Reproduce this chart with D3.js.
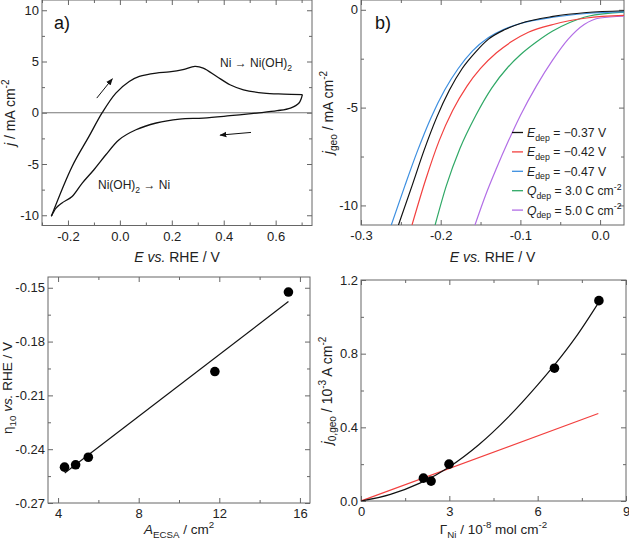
<!DOCTYPE html>
<html>
<head>
<meta charset="utf-8">
<script src="https://cdn.jsdelivr.net/npm/d3@7"></script>
<style>
  body { margin: 0; background: #fff; }
  svg { display: block; font-family: "Liberation Sans", Arial, sans-serif; }
</style>
</head>
<body>
<div id="chart"></div>
<script>
// ---- data ----
// a) cyclic voltammogram, anodic (upper) and cathodic (lower) sweeps
const cvFwdE = [-0.264, -0.184, -0.119, -0.0675, -0.0155, 0.036, 0.075, 0.14, 0.19, 0.243, 0.289, 0.321, 0.373, 0.424, 0.476, 0.554, 0.631, 0.703];
const cvFwdJ = [-10.1, -5.24, -2.31, 0.03, 1.92, 3.05, 3.54, 3.87, 3.98, 4.2, 4.52, 4.36, 3.54, 2.73, 2.24, 1.92, 1.82, 1.76];
const cvRevE = [0.703, 0.69, 0.657, 0.606, 0.528, 0.424, 0.321, 0.23, 0.14, 0.062, -0.003, -0.054, -0.1, -0.145, -0.184, -0.223, -0.246, -0.264];
const cvRevJ = [1.76, 0.95, 0.46, 0.2, -0.03, -0.29, -0.52, -0.62, -1.0, -1.66, -2.63, -4.1, -5.56, -6.86, -8.17, -8.8, -9.3, -10.1];

// b) polarisation curves
const lsvLabels = ["−0.37 V", "−0.42 V", "−0.47 V", "3.0 C cm", "5.0 C cm"];
const lsvSymbols = ["E", "E", "E", "Q", "Q"];
const lsvColors = ["#111111", "#f2403f", "#3d8fe0", "#2fa866", "#b26ee6"];
const lsvE = [
  [-0.253, -0.236, -0.221, -0.205, -0.189, -0.173, -0.156, -0.14, -0.12, -0.10, -0.059, -0.017, 0.03],
  [-0.236, -0.219, -0.202, -0.185, -0.167, -0.15, -0.13, -0.11, -0.09, -0.059, -0.017, 0.03],
  [-0.262, -0.245, -0.229, -0.212, -0.195, -0.178, -0.16, -0.14, -0.12, -0.10, -0.059, -0.017, 0.03],
  [-0.207, -0.193, -0.176, -0.156, -0.136, -0.116, -0.1, -0.08, -0.06, -0.038, -0.015, 0.03],
  [-0.157, -0.143, -0.13, -0.115, -0.1, -0.08, -0.06, -0.04, -0.02, 0.0, 0.03]
];
const lsvJ = [
  [-11, -9.0, -7.2, -5.5, -4.1, -3.0, -2.15, -1.5, -1.02, -0.7, -0.34, -0.14, -0.05],
  [-11, -8.7, -6.7, -5.15, -3.9, -3.0, -2.2, -1.6, -1.15, -0.75, -0.42, -0.29],
  [-11, -9.0, -7.2, -5.5, -4.1, -3.0, -2.1, -1.42, -0.98, -0.7, -0.38, -0.19, -0.11],
  [-11, -9.0, -7.1, -5.4, -4.0, -2.95, -2.3, -1.65, -1.1, -0.65, -0.33, -0.12],
  [-11, -9.4, -8.1, -6.7, -5.4, -3.9, -2.6, -1.5, -0.75, -0.42, -0.33]
];

// c) overpotential vs ECSA
const ecsa = [4.32, 4.87, 5.5, 11.78, 15.43];
const eta10 = [-0.25, -0.2487, -0.2445, -0.1967, -0.1524];
const etaFitX = [4.33, 15.43];
const etaFitY = [-0.2533, -0.1577];

// d) exchange current density vs Ni loading
const gammaNi = [2.12, 2.38, 2.99, 6.57, 8.08];
const j0 = [0.124, 0.108, 0.2, 0.721, 1.088];
const j0CurveX = [0, 1, 2, 3, 4, 5, 6, 6.6, 7.3, 8.08];
const j0CurveY = [0, 0.036, 0.097, 0.185, 0.305, 0.455, 0.63, 0.744, 0.891, 1.08];
const j0LineX = [0, 8.06];
const j0LineY = [0, 0.475];

// tick values
const aTicksX = [-0.2, 0, 0.2, 0.4, 0.6], aMinorX = [-0.3, -0.1, 0.1, 0.3, 0.5, 0.7];
const aTicksY = [-10, -5, 0, 5, 10], aMinorY = [-7.5, -2.5, 2.5, 7.5];
const bTicksX = [-0.3, -0.2, -0.1, 0.0], bMinorX = [-0.25, -0.15, -0.05];
const bTicksY = [-10, -5, 0], bMinorY = [-7.5, -2.5];
const cTicksX = [4, 8, 12, 16], cMinorX = [6, 10, 14];
const cTicksY = [-0.27, -0.24, -0.21, -0.18, -0.15], cMinorY = [-0.255, -0.225, -0.195, -0.165];
const dTicksX = [0, 3, 6, 9], dMinorX = [1.5, 4.5, 7.5];
const dTicksY = [0, 0.4, 0.8, 1.2], dMinorY = [0.2, 0.6, 1.0];

// ---- drawing ----
const svg = d3.select("#chart").append("svg")
    .attr("width", 629)
    .attr("height", 541);

const defs = svg.append("defs");
defs.append("marker")
    .attr("id", "arrowHead")
    .attr("viewBox", "0 0 10 10")
    .attr("refX", 9).attr("refY", 5)
    .attr("markerWidth", 7).attr("markerHeight", 7)
    .attr("markerUnits", "userSpaceOnUse")
    .attr("orient", "auto")
    .append("path")
    .attr("d", "M0,1 L10,5 L0,9 z")
    .attr("fill", "#111");

// tick labels in the figure use a plain hyphen
const hy = f => v => f(v).replace("−", "-");

// rich text helper: segments like {t, i, sub, sup}
function richText(sel, segs, size) {
    let cur = 0;
    segs.forEach(s => {
        let ts = sel.append("tspan").text(s.t);
        let target = s.sub ? size * 0.3 : (s.sup ? -size * 0.42 : 0);
        if (target !== cur) ts.attr("dy", target - cur);
        cur = target;
        if (s.i) ts.attr("font-style", "italic");
        if (s.sub || s.sup) ts.attr("font-size", size * 0.72);
    });
    return sel;
}

function panel(box, xDom, yDom, ticks, fmtX, fmtY) {
    let x = d3.scaleLinear().domain(xDom).range([box.l, box.r]);
    let y = d3.scaleLinear().domain(yDom).range([box.b, box.t]);
    let g = svg.append("g");

    defs.append("clipPath").attr("id", "clip" + box.id)
        .append("rect")
        .attr("x", box.l).attr("y", box.t)
        .attr("width", box.r - box.l).attr("height", box.b - box.t);

    let addAxis = (axis, tr, vals, size, fmt, pad) => {
        let a = g.append("g").attr("transform", tr)
            .call(axis.tickValues(vals).tickSize(-size).tickPadding(pad || 3).tickFormat(fmt || ""));
        a.select(".domain").remove();
        a.selectAll("line").attr("stroke", "#666");
        a.selectAll("text").attr("fill", "#222").attr("font-size", 13)
            .attr("font-family", "'Liberation Sans', Arial, sans-serif");
        if (!fmt) a.selectAll("text").remove();
        return a;
    };
    addAxis(d3.axisBottom(x), `translate(0,${box.b})`, ticks.x, 5, hy(fmtX), 6);
    addAxis(d3.axisBottom(x), `translate(0,${box.b})`, ticks.mx, 3);
    addAxis(d3.axisTop(x), `translate(0,${box.t})`, ticks.x, 5);
    addAxis(d3.axisTop(x), `translate(0,${box.t})`, ticks.mx, 3);
    addAxis(d3.axisLeft(y), `translate(${box.l},0)`, ticks.y, 5, hy(fmtY), 3);
    addAxis(d3.axisLeft(y), `translate(${box.l},0)`, ticks.my, 3);
    addAxis(d3.axisRight(y), `translate(${box.r},0)`, ticks.y, 5);
    addAxis(d3.axisRight(y), `translate(${box.r},0)`, ticks.my, 3);

    g.append("rect")
        .attr("x", box.l).attr("y", box.t)
        .attr("width", box.r - box.l).attr("height", box.b - box.t)
        .attr("fill", "none")
        .attr("stroke", "#666")
        .attr("stroke-width", 1);

    let plot = svg.append("g").attr("clip-path", `url(#clip${box.id})`);
    return {x, y, g, plot};
}

function xTitle(box, baseline, segs, size) {
    size = size || 14;
    let t = svg.append("text")
        .attr("x", (box.l + box.r) / 2)
        .attr("y", baseline)
        .attr("text-anchor", "middle")
        .attr("font-size", size)
        .attr("fill", "#222");
    richText(t, segs, size);
}

function yTitle(cx, cy, segs, size) {
    size = size || 14;
    let t = svg.append("text")
        .attr("transform", `translate(${cx},${cy}) rotate(-90)`)
        .attr("text-anchor", "middle")
        .attr("font-size", size)
        .attr("fill", "#222");
    richText(t, segs, size);
}

const lineGen = (x, y, curve) => d3.line()
    .x(d => x(d[0]))
    .y(d => y(d[1]))
    .curve(curve || d3.curveLinear);

// ---------- panel a ----------
const boxA = {id: "a", l: 42, r: 312, t: 0, b: 225.5};
const pa = panel(boxA, [-0.3, 0.74], [-11, 11],
    {x: aTicksX, mx: aMinorX, y: aTicksY, my: aMinorY},
    d3.format(".1f"), d3.format("d"));

pa.plot.append("line")
    .attr("x1", boxA.l).attr("x2", boxA.r)
    .attr("y1", pa.y(0)).attr("y2", pa.y(0))
    .attr("stroke", "#777").attr("stroke-width", 1.2);

[[cvFwdE, cvFwdJ], [cvRevE, cvRevJ]].forEach(([es, js]) => {
    pa.plot.append("path")
        .datum(es.map((e, i) => [e, js[i]]))
        .attr("d", lineGen(pa.x, pa.y, d3.curveCatmullRom.alpha(0.5)))
        .attr("fill", "none")
        .attr("stroke", "#111")
        .attr("stroke-width", 1.3);
});

// sweep direction arrows
const cvArrows = [[-0.089, 1.43, -0.029, 3.32], [0.505, -1.92, 0.386, -2.18]];
cvArrows.forEach(a => {
    svg.append("line")
        .attr("x1", pa.x(a[0])).attr("y1", pa.y(a[1]))
        .attr("x2", pa.x(a[2])).attr("y2", pa.y(a[3]))
        .attr("stroke", "#111").attr("stroke-width", 1)
        .attr("marker-end", "url(#arrowHead)");
});

let t1 = svg.append("text").attr("x", 220).attr("y", 67).attr("font-size", 12).attr("fill", "#222");
richText(t1, [{t: "Ni → Ni(OH)"}, {t: "2", sub: true}], 12);
let t2 = svg.append("text").attr("x", 98).attr("y", 189).attr("font-size", 12).attr("fill", "#222");
richText(t2, [{t: "Ni(OH)"}, {t: "2", sub: true}, {t: " → Ni"}], 12);

svg.append("text").attr("x", 54).attr("y", 29).attr("font-size", 18).attr("fill", "#111").text("a)");

xTitle(boxA, 262, [{t: "E", i: true}, {t: " "}, {t: "vs.", i: true}, {t: " RHE / V"}]);
yTitle(15, (boxA.t + boxA.b) / 2, [{t: "j", i: true}, {t: " / mA cm"}, {t: "-2", sup: true}]);

// ---------- panel b ----------
const boxB = {id: "b", l: 361, r: 624, t: 0, b: 225};
const pb = panel(boxB, [-0.3, 0.03], [-11, 0.5],
    {x: bTicksX, mx: bMinorX, y: bTicksY, my: bMinorY},
    d3.format(".1f"), d3.format("d"));

// draw order: purple, green, blue, red, black on top
[4, 3, 2, 1, 0].forEach(k => {
    pb.plot.append("path")
        .datum(lsvE[k].map((e, i) => [e, lsvJ[k][i]]))
        .attr("d", lineGen(pb.x, pb.y, d3.curveMonotoneX))
        .attr("fill", "none")
        .attr("stroke", lsvColors[k])
        .attr("stroke-width", 1.2);
});

const legend = svg.append("g").attr("transform", "translate(512,132.5)");
lsvLabels.forEach((lab, k) => {
    let row = legend.append("g").attr("transform", `translate(0,${k * 19.4})`);
    row.append("line")
        .attr("x1", 0).attr("x2", 11)
        .attr("stroke", lsvColors[k]).attr("stroke-width", 1.3);
    let t = row.append("text").attr("x", 15).attr("y", 4.5).attr("font-size", 12.2).attr("fill", "#222");
    let segs = [{t: lsvSymbols[k], i: true}, {t: "dep", sub: true}, {t: " = " + lab}];
    if (lsvSymbols[k] === "Q") segs.push({t: "-2", sup: true});
    richText(t, segs, 12.2);
});

svg.append("text").attr("x", 375).attr("y", 29).attr("font-size", 18).attr("fill", "#111").text("b)");

xTitle(boxB, 262, [{t: "E", i: true}, {t: " "}, {t: "vs.", i: true}, {t: " RHE / V"}]);
yTitle(333, (boxB.t + boxB.b) / 2, [{t: "j", i: true}, {t: "geo", sub: true}, {t: " / mA cm"}, {t: "-2", sup: true}]);

// ---------- panel c ----------
const boxC = {id: "c", l: 48, r: 310, t: 277, b: 503};
const pc = panel(boxC, [3.5, 16.5], [-0.27, -0.144],
    {x: cTicksX, mx: cMinorX, y: cTicksY, my: cMinorY},
    d3.format("d"), d3.format(".2f"));

pc.plot.append("path")
    .datum(etaFitX.map((v, i) => [v, etaFitY[i]]))
    .attr("d", lineGen(pc.x, pc.y))
    .attr("fill", "none").attr("stroke", "#111").attr("stroke-width", 1.2);

svg.append("g").selectAll("circle")
    .data(ecsa.map((v, i) => [v, eta10[i]]))
    .enter().append("circle")
    .attr("cx", d => pc.x(d[0]))
    .attr("cy", d => pc.y(d[1]))
    .attr("r", 4.8)
    .attr("fill", "#000");

xTitle(boxC, 534, [{t: "A", i: true}, {t: "ECSA", sub: true}, {t: " / cm"}, {t: "2", sup: true}], 13.5);
yTitle(11.5, (boxC.t + boxC.b) / 2 - 2, [{t: "η"}, {t: "10", sub: true}, {t: " "}, {t: "vs.", i: true}, {t: " RHE / V"}], 13.5);

// ---------- panel d ----------
const boxD = {id: "d", l: 361, r: 626, t: 280, b: 501};
const pd = panel(boxD, [0, 9], [0, 1.2],
    {x: dTicksX, mx: dMinorX, y: dTicksY, my: dMinorY},
    d3.format("d"), d3.format(".1f"));

pd.plot.append("path")
    .datum(j0LineX.map((v, i) => [v, j0LineY[i]]))
    .attr("d", lineGen(pd.x, pd.y))
    .attr("fill", "none").attr("stroke", "#f2403f").attr("stroke-width", 1.2);

pd.plot.append("path")
    .datum(j0CurveX.map((v, i) => [v, j0CurveY[i]]))
    .attr("d", lineGen(pd.x, pd.y, d3.curveMonotoneX))
    .attr("fill", "none").attr("stroke", "#111").attr("stroke-width", 1.2);

svg.append("g").selectAll("circle")
    .data(gammaNi.map((v, i) => [v, j0[i]]))
    .enter().append("circle")
    .attr("cx", d => pd.x(d[0]))
    .attr("cy", d => pd.y(d[1]))
    .attr("r", 4.8)
    .attr("fill", "#000");

xTitle(boxD, 534, [{t: "Γ"}, {t: "Ni", sub: true}, {t: " / 10"}, {t: "-8", sup: true}, {t: " mol cm"}, {t: "-2", sup: true}], 13.5);
yTitle(332, (boxD.t + boxD.b) / 2, [{t: "j", i: true}, {t: "0,geo", sub: true}, {t: " / 10"}, {t: "-3", sup: true}, {t: " A cm"}, {t: "-2", sup: true}]);
</script>
</body>
</html>
